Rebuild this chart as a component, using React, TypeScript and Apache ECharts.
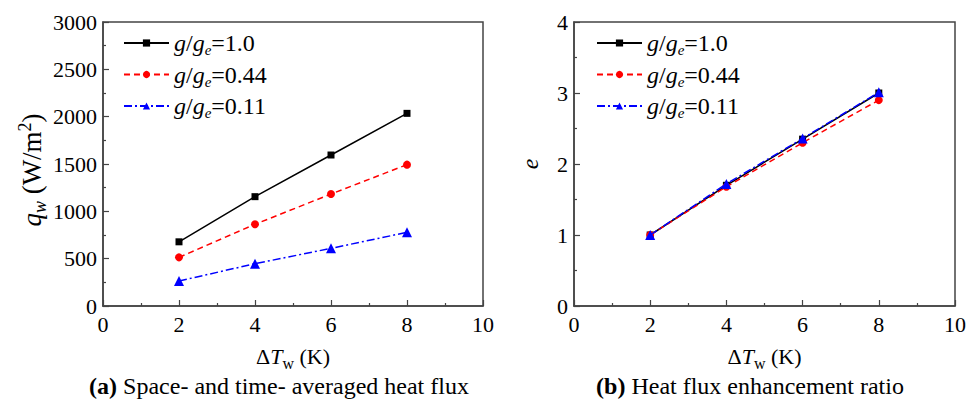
import React, { useEffect, useRef } from "react";
import * as echarts from "echarts";

const xValues = [2, 4, 6, 8];
const seriesNames = ["1.0", "0.44", "0.11"];
const qw10 = [678, 1155, 1595, 2035];
const qw044 = [514, 863, 1183, 1493];
const qw011 = [264, 447, 609, 778];
const e10 = [1.0, 1.7, 2.35, 3.0];
const e044 = [1.0, 1.68, 2.3, 2.9];
const e011 = [1.0, 1.72, 2.36, 3.01];
const captionA = "Space- and time- averaged heat flux";
const captionB = "Heat flux enhancement ratio";

const FONT = "Liberation Serif";

const colors = ["#000000", "#ff0000", "#0000ff"];
const symbols = ["rect", "circle", "triangle"];
const symbolSizes = [7, 8, 10];
const lineTypes: any[] = ["solid", [6, 4], [8, 3, 2, 3]];

const rich = {
  n: { fontFamily: FONT, fontSize: 24, color: "#000" },
  i: { fontFamily: FONT, fontSize: 24, fontStyle: "italic", color: "#000" },
  sub: { fontFamily: FONT, fontSize: 15, fontStyle: "italic", color: "#000", padding: [14, 0, 0, 0] },
  subu: { fontFamily: FONT, fontSize: 16, color: "#000", padding: [14, 0, 0, 0] },
  yn: { fontFamily: FONT, fontSize: 27, color: "#000" },
  yi: { fontFamily: FONT, fontSize: 27, fontStyle: "italic", color: "#000" },
  ysub: { fontFamily: FONT, fontSize: 18, fontStyle: "italic", color: "#000", padding: [16, 0, 0, 0] },
  ysup: { fontFamily: FONT, fontSize: 18, color: "#000", padding: [0, 0, 14, 0] },
  xn: { fontFamily: FONT, fontSize: 22, color: "#000" },
  xi: { fontFamily: FONT, fontSize: 22, fontStyle: "italic", color: "#000" },
  b: { fontFamily: FONT, fontSize: 24, fontWeight: "bold", color: "#000" },
  c: { fontFamily: FONT, fontSize: 24, color: "#000" },
};

export default function App() {
  const ref = useRef<HTMLDivElement>(null);
  useEffect(() => {
    if (!ref.current) return;
    const chart = echarts.init(ref.current, undefined, { renderer: "svg" });
    const mkSeries = (data: number[], idx: number, axisIdx: number) => ({
      type: "line",
      name: seriesNames[idx],
      xAxisIndex: axisIdx,
      yAxisIndex: axisIdx,
      data: xValues.map((x, k) => [x, data[k]]),
      symbol: symbols[idx],
      symbolSize: symbolSizes[idx],
      lineStyle: { color: colors[idx], width: 1.5, type: lineTypes[idx] },
      itemStyle: { color: colors[idx] },
      z: 3 + idx,
    });
    const axisCommon = {
      axisLine: { show: true, onZero: false, lineStyle: { color: "#444", width: 1.5 } },
      axisTick: { show: true, inside: true, length: 6, lineStyle: { color: "#444", width: 1.2 } },
      minorTick: { show: true, splitNumber: 2, length: 3, lineStyle: { color: "#444", width: 1.2 } },
      splitLine: { show: false },
      axisLabel: { fontFamily: FONT, fontSize: 22, color: "#000", formatter: (v: number) => String(v) },
    };
    const xAxis = (gi: number) => ({
      ...axisCommon,
      type: "value",
      gridIndex: gi,
      min: 0,
      max: 10,
      interval: 2,
      axisLabel: { ...axisCommon.axisLabel, margin: 7 },
      name: "{xn|Δ}{xi|T}{subu|w}{xn| (K)}",
      nameLocation: "middle",
      nameGap: 35,
      nameTextStyle: { fontFamily: FONT, rich },
    });
    const legendFormatter = (name: string) => `{i|g}{n|/}{i|g}{sub|e}{n|=${name}}`;
    const legend = (left: number) => ({
      orient: "vertical",
      left,
      top: 26,
      itemWidth: 45,
      itemHeight: 9,
      itemGap: 5,
      data: seriesNames,
      formatter: legendFormatter,
      textStyle: { fontFamily: FONT, rich, padding: [0, 0, 0, 0] },
    });
    chart.setOption({
      animation: false,
      textStyle: { fontFamily: FONT },
      grid: [
        { left: 103, top: 22, width: 380, height: 284, show: true, borderColor: "#444", borderWidth: 1.5 },
        { left: 574, top: 22, width: 381, height: 284, show: true, borderColor: "#444", borderWidth: 1.5 },
      ],
      legend: [legend(118), legend(591)],
      xAxis: [xAxis(0), xAxis(1)],
      yAxis: [
        {
          ...axisCommon,
          type: "value",
          gridIndex: 0,
          min: 0,
          max: 3000,
          interval: 500,
          axisLabel: { ...axisCommon.axisLabel, margin: 6 },
          name: "{yi|q}{ysub|w}{yn| (W/m}{ysup|2}{yn|)}",
          nameLocation: "middle",
          nameGap: 48,
          nameTextStyle: { fontFamily: FONT, rich, padding: [0, 12, 0, 0] },
        },
        {
          ...axisCommon,
          type: "value",
          gridIndex: 1,
          min: 0,
          max: 4,
          interval: 1,
          axisLabel: { ...axisCommon.axisLabel, margin: 6 },
          name: "{i|e}",
          nameLocation: "middle",
          nameGap: 32,
          nameTextStyle: { fontFamily: FONT, rich },
        },
      ],
      series: [
        mkSeries(qw10, 0, 0),
        mkSeries(qw044, 1, 0),
        mkSeries(qw011, 2, 0),
        mkSeries(e10, 0, 1),
        mkSeries(e044, 1, 1),
        mkSeries(e011, 2, 1),
      ],
      graphic: [
        {
          type: "text",
          x: 279,
          y: 386,
          style: { text: `{b|(a)} {c|${captionA}}`, rich, font: `24px ${FONT}`, align: "center", verticalAlign: "middle" },
        },
        {
          type: "text",
          x: 750,
          y: 386,
          style: { text: `{b|(b)} {c|${captionB}}`, rich, font: `24px ${FONT}`, align: "center", verticalAlign: "middle" },
        },
      ],
    });
    return () => chart.dispose();
  }, []);
  return (
    <div
      ref={ref}
      style={{ position: "absolute", left: 0, top: 0, width: 978, height: 400 }}
    />
  );
}
